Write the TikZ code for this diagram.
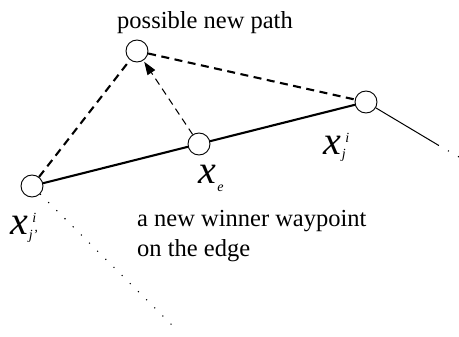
\documentclass[tikz,border=0pt]{standalone}
\usepackage{fontspec}
\setmainfont{Liberation Serif}
\usetikzlibrary{arrows.meta}
\newcommand{\bigx}{{\fontsize{40}{40}\selectfont\itshape x}}
\newcommand{\smit}[1]{{\fontsize{14}{14}\selectfont\itshape #1}}
\begin{document}
\begin{tikzpicture}[x=1pt,y=-1pt,
  wp/.style={circle,draw,fill=white,line width=0.9pt,minimum size=22pt,inner sep=0pt},
  edgeline/.style={line width=2.1pt},
  newpath/.style={line width=2.1pt,dash pattern=on 8pt off 5.5pt},
  movearrow/.style={line width=1pt,dash pattern=on 7pt off 5pt,-{Triangle[length=13pt,width=9pt]},shorten >=1.5pt},
  thinline/.style={line width=1pt},
  dotline/.style={line width=1.1pt,dash pattern=on 1.1pt off 10.4pt},
  lab/.style={inner sep=0pt,font=\fontsize{24.5}{30}\selectfont}]
\useasboundingbox (0,0) rectangle (459,337);
% waypoint positions
\coordinate (Ac) at (32,186);
\coordinate (Pc) at (137,51);
\coordinate (Ec) at (199,144);
\coordinate (Bc) at (366,102);
\coordinate (Aend) at (177,330);
\coordinate (Bmid) at (438,145);
\coordinate (Bend) at (459,157);
\node[wp] (A) at (Ac) {};
\node[wp] (P) at (Pc) {};
\node[wp] (E) at (Ec) {};
\node[wp] (B) at (Bc) {};
% edges
\draw[edgeline] (A) -- (E) -- (B);
\draw[newpath] (A) -- (P) -- (B);
\draw[movearrow] (E) -- (P);
\draw[thinline] (B) -- (Bmid);
\draw[dotline] (Bmid) -- (Bend);
\draw[dotline] (A) -- (Aend);
% labels
\node[lab,anchor=base] (ptxt) at (205,29) {possible new path};
\node[lab,anchor=base west] (cap1) at (137,227) {a new winner waypoint};
\node[lab,anchor=base west] (cap2) at (137,257) {on the edge};
\node[inner sep=0pt,anchor=base west] (lB) at (323,155)
  {\bigx\rlap{\kern4.5pt\raisebox{13pt}{\smit{i}}}\kern1pt\raisebox{-4pt}{\smit{j}}};
\node[inner sep=0pt,anchor=base west] (lE) at (198,184)
  {\bigx\kern1.5pt\raisebox{-8pt}{\smit{e}}};
\node[inner sep=0pt,anchor=base west] (lA) at (10,235)
  {\bigx\rlap{\kern4.5pt\raisebox{12pt}{\smit{i}}}\kern1pt\raisebox{-5pt}{\smit{j’}}};
\end{tikzpicture}
\end{document}
